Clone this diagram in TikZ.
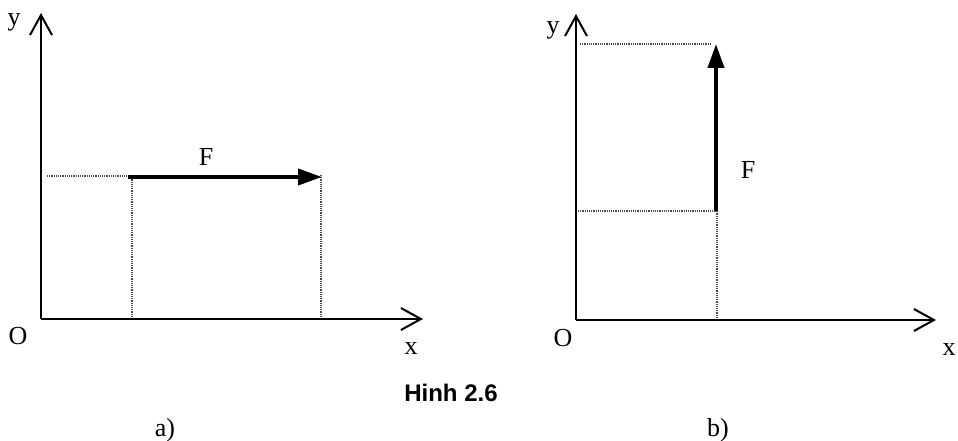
\documentclass[tikz,border=0pt]{standalone}
\usepackage{fontspec}
\setmainfont{Liberation Serif}
\newfontfamily\capfont{Liberation Sans}
\usetikzlibrary{arrows.meta}
\begin{document}
\begin{tikzpicture}[x=1pt,y=-1pt,
  axis/.style={line width=2pt,-{Straight Barb[length=20pt,width=22pt,line width=2pt]}},
  force/.style={line width=4pt,-{Triangle[length=24pt,width=16pt]}},
  guide/.style={line width=1.2pt,densely dotted,black!70},
  lbl/.style={font=\fontsize{26}{30}\selectfont,inner sep=0pt},
  caplbl/.style={font=\capfont\bfseries\fontsize{24}{28}\selectfont,inner sep=0pt}]
\useasboundingbox (0,0) rectangle (958,441);
% ---- a) ----
\coordinate (Oa) at (41,319);
\coordinate (ya) at (41,13);
\coordinate (xa) at (423,319);
\coordinate (Fa1) at (128,177);
\coordinate (Fa2) at (322,177);
\coordinate (ga) at (47,176);
\coordinate (pa1) at (132,316);
\coordinate (pa2) at (321,316);
\draw[guide] (ga) -- (ga -| Fa1);
\draw[guide] ([yshift=2pt]Fa1 -| pa1) -- (pa1);
\draw[guide] ([yshift=2pt]Fa2 -| pa2) -- (pa2);
\draw[axis] (Oa) -- (ya);
\draw[axis] (Oa) -- (xa);
\draw[force] (Fa1) -- (Fa2);
\node[lbl] (Fla) at (206,157) {F};
\node[lbl] (Ola) at (18,336) {O};
\node[lbl] (yla) at (14,22) {y};
\node[lbl] (xla) at (411,349) {x};
\node[lbl] (cap-a) at (165,430) {a)};
% ---- b) ----
\coordinate (Ob) at (576,320);
\coordinate (yb) at (576,14);
\coordinate (xb) at (936,320);
\coordinate (Fb1) at (716,211);
\coordinate (Fb2) at (716,44);
\coordinate (gb1) at (580,44);
\coordinate (gb2) at (710,44);
\coordinate (gb3) at (578,211);
\coordinate (pb) at (717,318);
\draw[guide] (gb1) -- (gb2);
\draw[guide] (gb3) -- (Fb1);
\draw[guide] ([yshift=2pt]Fb1 -| pb) -- (pb);
\draw[axis] (Ob) -- (yb);
\draw[axis] (Ob) -- (xb);
\draw[force] (Fb1) -- (Fb2);
\node[lbl] (Flb) at (748,170) {F};
\node[lbl] (Olb) at (563,338) {O};
\node[lbl] (ylb) at (553,30) {y};
\node[lbl] (xlb) at (949,350) {x};
\node[lbl] (cap-b) at (718,430) {b)};
% ---- caption ----
\node[caplbl] (cap) at (451,393) {Hinh 2.6};
\end{tikzpicture}
\end{document}
